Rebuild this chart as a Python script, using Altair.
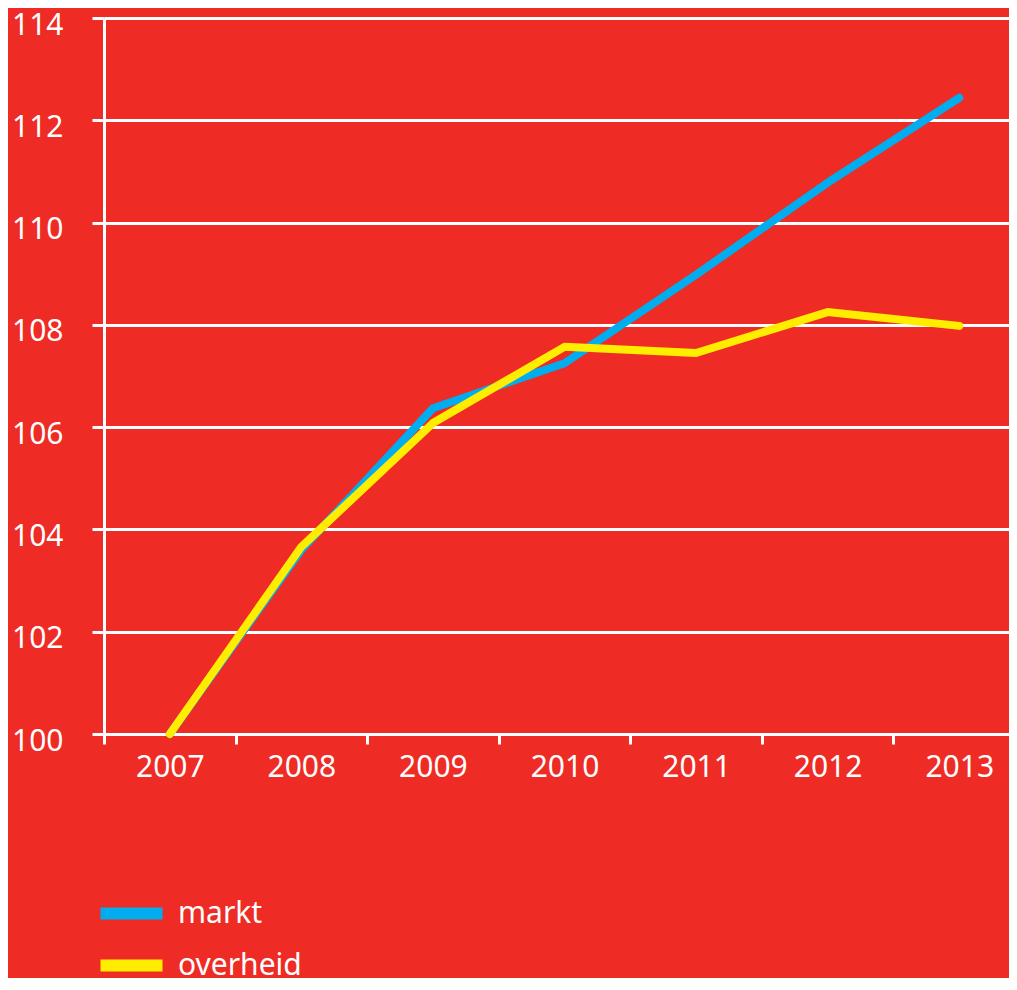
import altair as alt
import pandas as pd

years = ["2007", "2008", "2009", "2010", "2011", "2012", "2013"]
markt = [100.0, 103.6, 106.37, 107.25, 108.98, 110.78, 112.44]
overheid = [100.0, 103.66, 106.08, 107.57, 107.45, 108.25, 107.98]
series = ["markt", "overheid"]
y_ticks = [100, 102, 104, 106, 108, 110, 112, 114]

rows = []
for name, vals in zip(series, [markt, overheid]):
    for yr, v in zip(years, vals):
        rows.append({"jaar": yr, "waarde": v, "reeks": name})
df = pd.DataFrame(rows)

RED = "#EE2B24"
BLUE = "#00AEEF"
YELLOW = "#FFED00"
FONT = "Noto Sans"

chart = alt.Chart(df).mark_line(strokeWidth=8, strokeCap="round", strokeJoin="round").encode(
    x=alt.X("jaar:O", sort=years, bandPosition=0.5,
            scale=alt.Scale(type="band", paddingInner=0, paddingOuter=0),
            axis=alt.Axis(title=None, labelAngle=0, tickBand="extent", grid=False,
                          domain=False, tickSize=10, labelPadding=8)),
    y=alt.Y("waarde:Q", scale=alt.Scale(domain=[100, 114], nice=False, zero=False),
            axis=alt.Axis(title=None, values=y_ticks, grid=True, tickSize=12,
                          labelPadding=29, labelOffset=7)),
    color=alt.Color("reeks:N", sort=series,
                    scale=alt.Scale(domain=series, range=[BLUE, YELLOW]),
                    legend=alt.Legend(title=None, orient="none", legendX=6, legendY=874,
                                      symbolType="M-2,0H2", symbolSize=961,
                                      symbolStrokeWidth=12, labelOffset=25,
                                      labelFontSize=30, labelColor="white", labelFont=FONT,
                                      rowPadding=3, padding=0, direction="vertical")),
    order=alt.Order("reeks:N"),
).properties(
    width=921, height=716,
    background=RED,
    padding={"left": 96, "top": 10, "right": -16, "bottom": 244},
    autosize=alt.AutoSizeParams(type="none"),
).configure_view(stroke=None).configure_axis(
    domainColor="white", domainWidth=3, tickColor="white", tickWidth=3,
    gridColor="white", gridWidth=3, gridOpacity=1,
    labelColor="white", labelFont=FONT, labelFontSize=30,
)

chart.save("out.html", embed_options={"renderer": "svg", "actions": False})
